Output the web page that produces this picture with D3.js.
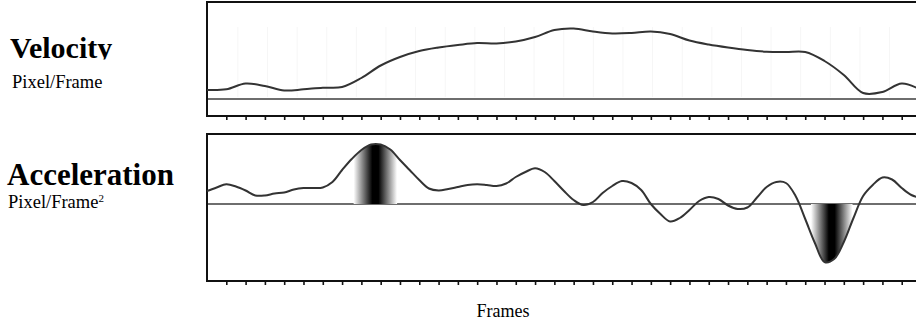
<!DOCTYPE html>
<html>
<head>
<meta charset="utf-8">
<script src="https://cdn.jsdelivr.net/npm/d3@7"></script>
<style>
  body { margin: 0; background: white; }
  svg { display: block; font-family: "Liberation Serif", "DejaVu Serif", serif; }
</style>
</head>
<body>
<div id="graphContainer"></div>
<script>
// velocity, one reading per frame (pixel/frame)
const velocity = [
  0.9, 0.97, 1.55, 1.3, 0.85, 0.97, 1.13, 1.2, 2.1, 3.35,
  4.2, 4.8, 5.15, 5.4, 5.6, 5.55, 5.75, 6.2, 6.9, 7.05,
  6.75, 6.55, 6.6, 6.75, 6.5, 5.85, 5.45, 5.15, 4.9, 4.73,
  4.7, 4.7, 3.8, 2.4, 0.6, 0.7, 1.55, 0.9,
];

// acceleration, one reading per half frame (pixel/frame^2)
const acceleration = [
  1.3, 1.65, 1.97, 1.75, 1.35, 0.85, 0.85, 1.05, 1.15, 1.45,
  1.6, 1.6, 1.65, 2.2, 3.4, 4.5, 5.4, 5.95, 5.95, 5.45,
  4.4, 3.4, 2.4, 1.55, 1.35, 1.5, 1.7, 1.9, 1.97, 1.9,
  1.8, 2.05, 2.7, 3.2, 3.57, 3.2, 2.3, 1.3, 0.4, -0.1,
  0.2, 1.1, 1.8, 2.3, 2.1, 1.4, 0.0, -1.0, -1.75, -1.4,
  -0.6, 0.3, 0.7, 0.5, -0.15, -0.5, -0.35, 0.65, 1.7, 2.2,
  2.1, 0.8, -1.5, -3.9, -5.8, -5.5, -3.8, -1.4, 0.8, 1.9,
  2.65, 2.45, 1.6, 0.9, 0.6,
];

// frame ranges of the shaded extremes in the acceleration plot
const highlights = [
  [7.6, 9.85],
  [31.3, 33.45],
];

const frameTicks = d3.range(1, 37);
const gridFrames = d3.range(1.6, 37, 1.535);

const width = 916,
  height = 327;

const svg = d3
  .select("#graphContainer")
  .append("svg")
  .attr("width", width)
  .attr("height", height);

const defs = svg.append("defs");

// x: frame number, shared by both panels
const x = d3.scaleLinear().domain([0, 36.74]).range([207, 916]);

const yV = d3.scaleLinear().domain([-1.7, 9.7]).range([116, 2]);
const yA = d3.scaleLinear().domain([-7.7, 7.0]).range([281, 134]);

const curve = d3.curveCatmullRom.alpha(0.5);

drawFrame = (y, withGrid) => {
  const g = svg.append("g");
  const [bottom, top] = y.range();

  if (withGrid) {
    g.append("g")
      .selectAll("line")
      .data(gridFrames)
      .join("line")
      .attr("x1", (d) => x(d))
      .attr("x2", (d) => x(d))
      .attr("y1", top + 25)
      .attr("y2", y(0) - 2)
      .attr("stroke", "#f6f6f6")
      .attr("stroke-width", 1);
  }

  // zero line
  g.append("line")
    .attr("x1", x(0))
    .attr("x2", width + 10)
    .attr("y1", y(0))
    .attr("y2", y(0))
    .attr("stroke", "#6e6e6e")
    .attr("stroke-width", 2);

  // the box runs off the right edge of the picture
  g.append("rect")
    .attr("x", x(0))
    .attr("y", top)
    .attr("width", width + 20 - x(0))
    .attr("height", bottom - top)
    .attr("fill", "none")
    .attr("stroke", "#111")
    .attr("stroke-width", 2);

  g.append("g")
    .attr("transform", "translate(0," + bottom + ")")
    .call(d3.axisBottom(x).tickValues(frameTicks).tickSize(4).tickFormat(""))
    .call((a) => a.select(".domain").remove())
    .call((a) =>
      a.selectAll(".tick line").attr("stroke", "#111").attr("stroke-width", 1.6)
    );
};

drawFrame(yV, true);
drawFrame(yA, false);

// velocity curve
svg
  .append("path")
  .attr("fill", "none")
  .attr("stroke", "#333")
  .attr("stroke-width", 2)
  .attr(
    "d",
    d3
      .line()
      .x((d, i) => x(i))
      .y((d) => yV(d))
      .curve(curve)(velocity)
  );

// shaded peak / trough under the acceleration curve
const area = d3
  .area()
  .x((d, i) => x(i / 2))
  .y0(yA(0))
  .y1((d) => yA(d))
  .curve(curve);

highlights.forEach(([f0, f1], k) => {
  const grad = defs
    .append("linearGradient")
    .attr("id", "shade" + k)
    .attr("gradientUnits", "userSpaceOnUse")
    .attr("x1", x(f0))
    .attr("x2", x(f1))
    .attr("y1", 0)
    .attr("y2", 0);
  [
    [0, "#fff"],
    [0.43, "#000"],
    [0.57, "#000"],
    [1, "#fff"],
  ].forEach(([o, c]) => grad.append("stop").attr("offset", o).attr("stop-color", c));

  defs
    .append("clipPath")
    .attr("id", "clip" + k)
    .append("rect")
    .attr("x", x(f0))
    .attr("width", x(f1) - x(f0))
    .attr("y", 0)
    .attr("height", height);

  svg
    .append("path")
    .attr("clip-path", "url(#clip" + k + ")")
    .attr("fill", "url(#shade" + k + ")")
    .attr("d", area(acceleration));
});

// acceleration curve
svg
  .append("path")
  .attr("fill", "none")
  .attr("stroke", "#333")
  .attr("stroke-width", 2)
  .attr(
    "d",
    d3
      .line()
      .x((d, i) => x(i / 2))
      .y((d) => yA(d))
      .curve(curve)(acceleration)
  );

// labels. the descender of "Velocity" is cut off in the original
defs
  .append("clipPath")
  .attr("id", "titleClip")
  .append("rect")
  .attr("x", 0)
  .attr("y", 0)
  .attr("width", 200)
  .attr("height", 59.5);

svg
  .append("text")
  .attr("x", 10)
  .attr("y", 58.3)
  .attr("clip-path", "url(#titleClip)")
  .style("font-size", "30px")
  .style("font-weight", "bold")
  .text("Velocity");

svg
  .append("text")
  .attr("x", 12)
  .attr("y", 88)
  .style("font-size", "18.5px")
  .text("Pixel/Frame");

svg
  .append("text")
  .attr("x", 7)
  .attr("y", 185)
  .style("font-size", "31px")
  .style("font-weight", "bold")
  .text("Acceleration");

const unit = svg
  .append("text")
  .attr("x", 8)
  .attr("y", 208.3)
  .style("font-size", "18.5px");
unit.append("tspan").text("Pixel/Frame");
unit
  .append("tspan")
  .attr("dy", -6.5)
  .style("font-size", "11px")
  .text("2");

svg
  .append("text")
  .attr("x", 503)
  .attr("y", 317.3)
  .attr("text-anchor", "middle")
  .style("font-size", "18px")
  .text("Frames");
</script>
</body>
</html>
